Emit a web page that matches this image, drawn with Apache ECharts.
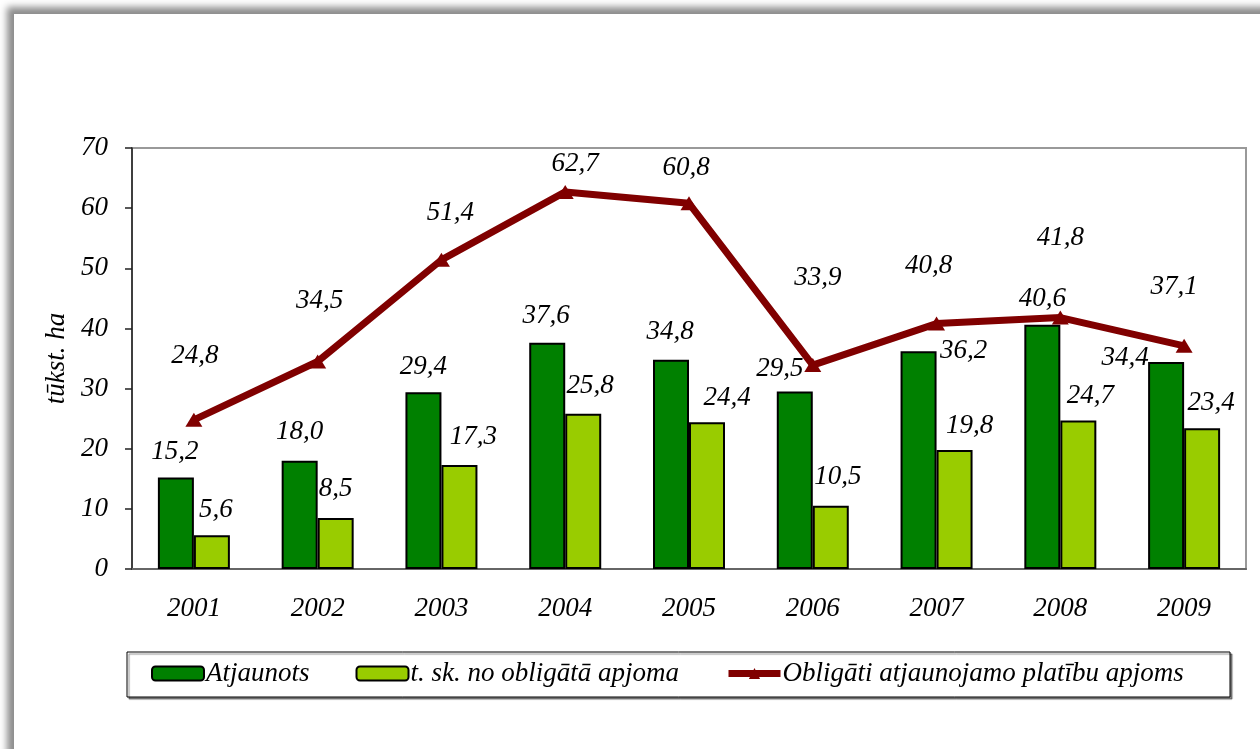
<!DOCTYPE html>
<html>
<head>
<meta charset="utf-8">
<script src="https://cdn.jsdelivr.net/npm/echarts@6/dist/echarts.min.js"></script>
<style>
    html, body { margin: 0; padding: 0; background: #fff; }
    .frame {
        position: absolute; left: 14px; top: 14px; width: 1300px; height: 800px;
        background: #fff;
        box-shadow: -7px -7px 7px rgba(0, 0, 0, 0.45);
    }
    #chart { position: absolute; left: 0; top: 0; width: 1260px; height: 749px; }
</style>
</head>
<body>
<div class="frame"></div>
<div id="chart"></div>
<script>
    // dati
    const years = ['2001', '2002', '2003', '2004', '2005', '2006', '2007', '2008', '2009'];
    const atjaunots = [15.2, 18.0, 29.4, 37.6, 34.8, 29.5, 36.2, 40.6, 34.4];
    const noObligata = [5.6, 8.5, 17.3, 25.8, 24.4, 10.5, 19.8, 24.7, 23.4];
    const obligati = [24.8, 34.5, 51.4, 62.7, 60.8, 33.9, 40.8, 41.8, 37.1];
    const yTicks = [0, 10, 20, 30, 40, 50, 60, 70];

    // etiķešu nobīdes (kā oriģinālā)
    const offAtj = [[-1, 0], [0, -3], [0, 0], [-1, -1], [-1, -2], [-15, 3], [45, 25], [0, 0], [-41, 21]];
    const offNo = [[4, 0], [0, -3], [14, -3], [7, -2], [20, 1], [7, -3], [15, 1], [12, 1], [9, 0]];
    const offObl = [[1, -64], [2, -61], [9, -47], [10, -28], [-3, -35], [5, -87], [-8, -58], [0, -80], [-10, -59]];

    const font = 'Liberation Serif';
    const fmt = p => p.value.toFixed(1).replace('.', ',');
    const txt = { fontFamily: font, fontStyle: 'italic', fontSize: 27, color: '#000' };

    const chart = echarts.init(document.getElementById('chart'));
    const option = {
        backgroundColor: 'transparent',
        animation: false,
        grid: {
            left: 132, right: 14, top: 148, bottom: 180,
            show: true, borderColor: '#999', borderWidth: 2
        },
        legend: {
            left: 151, top: 660, padding: 0,
            itemWidth: 52, itemHeight: 14, itemGap: 46,
            textStyle: Object.assign({}, txt, { padding: [0, 0, 0, -3] }),
            data: [
                'Atjaunots',
                't. sk. no obligātā apjoma',
                { name: 'Obligāti atjaunojamo platību apjoms', lineStyle: { width: 7 } }
            ]
        },
        xAxis: {
            type: 'category',
            data: years,
            axisLine: { lineStyle: { color: '#666', width: 2 } },
            axisTick: { length: 7, lineStyle: { color: '#666', width: 1.5 } },
            axisLabel: Object.assign({}, txt, { margin: 26 })
        },
        yAxis: {
            type: 'value',
            min: yTicks[0], max: yTicks[yTicks.length - 1], interval: 10,
            name: 'tūkst. ha',
            nameLocation: 'middle',
            nameGap: 54,
            nameTextStyle: txt,
            axisLine: { show: true, lineStyle: { color: '#222', width: 1.5 } },
            axisTick: { show: true, length: 7, lineStyle: { color: '#222', width: 1.5 } },
            axisLabel: Object.assign({}, txt, { margin: 24 }),
            splitLine: { show: false }
        },
        graphic: [{
            type: 'rect',
            shape: { x: 127, y: 652, width: 1103, height: 45 },
            style: {
                fill: '#fff', stroke: '#000', lineWidth: 1,
                shadowColor: 'rgba(0,0,0,0.45)', shadowOffsetX: 2, shadowOffsetY: 2, shadowBlur: 1
            },
            z: -1
        }],
        series: [
            {
                name: 'Atjaunots',
                type: 'bar',
                barWidth: 36,
                barGap: '0%',
                itemStyle: { color: '#008000', borderColor: '#000', borderWidth: 2 },
                label: Object.assign({ show: true, position: 'top', distance: 12, formatter: fmt }, txt),
                data: atjaunots.map((v, i) => ({ value: v, label: { offset: offAtj[i] } }))
            },
            {
                name: 't. sk. no obligātā apjoma',
                type: 'bar',
                barWidth: 36,
                barGap: '0%',
                itemStyle: { color: '#99CC00', borderColor: '#000', borderWidth: 2 },
                label: Object.assign({ show: true, position: 'top', distance: 12, formatter: fmt }, txt),
                data: noObligata.map((v, i) => ({ value: v, label: { offset: offNo[i] } }))
            },
            {
                name: 'Obligāti atjaunojamo platību apjoms',
                type: 'line',
                symbol: 'triangle',
                symbolSize: [17, 14],
                lineStyle: { color: '#800000', width: 7 },
                itemStyle: { color: '#800000' },
                label: Object.assign({ show: true, position: 'inside', formatter: fmt }, txt),
                data: obligati.map((v, i) => ({ value: v, label: { offset: offObl[i] } })),
                z: 3
            }
        ]
    };
    chart.setOption(option);
</script>
</body>
</html>
